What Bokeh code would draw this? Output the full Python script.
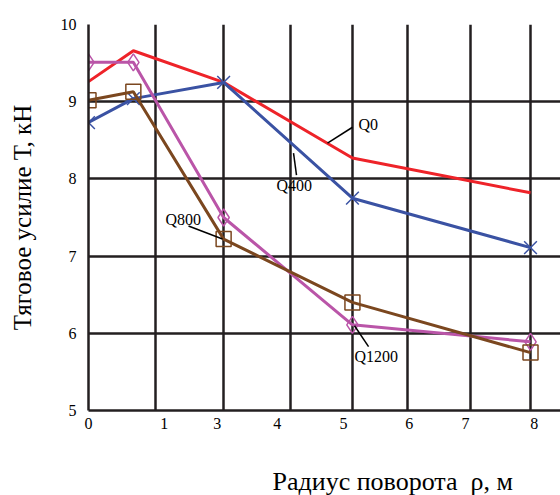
import numpy as np
from bokeh.plotting import figure
from bokeh.models import Title, FixedTicker
from bokeh.core.properties import value
from bokeh.embed import file_html
from bokeh.resources import INLINE

# ---- data ----
rho = [0, 0.67, 3, 5, 8]
q0 = [9.26, 9.66, 9.25, 8.27, 7.82]
q400 = [8.73, 9.04, 9.25, 7.75, 7.11]
q800 = [9.02, 9.13, 7.22, 6.40, 5.75]
q1200 = [9.51, 9.51, 7.50, 6.11, 5.89]

# non-uniform radius axis of the original: grid values and their axis positions
rho_grid = [0, 1, 3, 4, 5, 6, 7, 8]
grid_pos = [0, 1.06, 2.14, 3.2, 4.18, 5.05, 6.05, 7.0]
x_tick_labels = ["0", "1", "3", "4", "5", "6", "7", "8"]
x_label_pos = [0, 1.20, 2.04, 2.99, 4.04, 5.08, 5.97, 7.06]
y_ticks = [5, 6, 7, 8, 9, 10]

FONT = "'Liberation Serif'"
GRID = "#231f20"

def xp(r):
    return list(np.interp(r, rho_grid, grid_pos))

p = figure(width=560, height=495, x_range=(0, 7.475), y_range=(5, 10),
           output_backend="svg", toolbar_location=None,
           min_border_left=88, min_border_right=0, min_border_top=24,
           min_border_bottom=0)
p.outline_line_color = None
p.background_fill_color = "white"

# grid
p.xgrid.ticker = FixedTicker(ticks=grid_pos)
p.ygrid.ticker = FixedTicker(ticks=y_ticks)
for g in (p.xgrid, p.ygrid):
    g.grid_line_color = GRID
    g.grid_line_width = 2.5
    g.grid_line_alpha = 1.0

# x axis (an invisible axis label is used as spacing above the x title)
p.xaxis.ticker = FixedTicker(ticks=x_label_pos)
p.xaxis.major_label_overrides = {x: s for x, s in zip(x_label_pos, x_tick_labels)}
p.xaxis.major_tick_out = 0
p.xaxis.major_tick_in = 0
p.xaxis.minor_tick_out = 0
p.xaxis.minor_tick_in = 0
p.xaxis.axis_line_width = 2.5
p.xaxis.axis_line_color = GRID
p.xaxis.major_label_standoff = 7
p.xaxis.major_label_text_font = FONT
p.xaxis.major_label_text_font_size = "16px"
p.xaxis.major_label_text_color = "black"
p.xaxis.axis_label = "\u00a0"
p.xaxis.axis_label_text_font_size = "10px"
p.xaxis.axis_label_standoff = 19

# y axis
p.yaxis.ticker = FixedTicker(ticks=y_ticks)
p.yaxis.major_tick_out = 0
p.yaxis.major_tick_in = 0
p.yaxis.minor_tick_out = 0
p.yaxis.minor_tick_in = 0
p.yaxis.axis_line_width = 2.5
p.yaxis.axis_line_color = GRID
p.yaxis.major_label_standoff = 12
p.yaxis.major_label_text_font = FONT
p.yaxis.major_label_text_font_size = "16px"
p.yaxis.major_label_text_color = "black"
p.yaxis.axis_label = "Тяговое усилие Т, кН"
p.yaxis.axis_label_text_font = FONT
p.yaxis.axis_label_text_font_size = "25px"
p.yaxis.axis_label_text_font_style = "normal"
p.yaxis.axis_label_text_color = "black"
p.yaxis.axis_label_standoff = 22

# x title
p.add_layout(Title(text="Радиус поворота\u00a0\u00a0ρ, м", align="left", offset=184,
                   standoff=0, vertical_align="bottom", text_font=FONT,
                   text_font_size="26px", text_font_style="normal",
                   text_color="black"), "below")

# series
RED, BLUE, MAG, BROWN = "#ee2329", "#3a52a3", "#ba55a8", "#7b471f"
x = xp(rho)
p.line(x, q0, line_color=RED, line_width=3)
p.line(x, q400, line_color=BLUE, line_width=3)
p.scatter(x, q400, marker="x", size=18, line_color=BLUE, line_width=1.5)
p.line(x, q1200, line_color=MAG, line_width=3)
p.scatter(x, q1200, marker="diamond", size=17, line_color=MAG, line_width=1.5,
          fill_color=None)
p.line(x, q800, line_color=BROWN, line_width=3)
p.scatter(x, q800, marker="square", size=15, line_color=BROWN, line_width=1.5,
          fill_color=None)

# series labels with leader lines
names = ["Q0", "Q400", "Q800", "Q1200"]
name_x = [4.276, 2.977, 1.22, 4.213]
name_y = [8.708, 7.92, 7.468, 5.698]
lead_x0 = [3.785, 3.247, 1.584, 4.213]
lead_y0 = [8.463, 8.333, 7.39, 6.098]
lead_x1 = [4.181, 3.294, 2.122, 4.435]
lead_y1 = [8.669, 8.049, 7.222, 5.827]
p.segment(lead_x0, lead_y0, lead_x1, lead_y1, line_color="black", line_width=1.5)
p.text(name_x, name_y, text=names, text_font=value(FONT), text_font_size="16px",
       text_baseline="middle", text_align="left", text_color="black")

open("out.html", "w").write(file_html(p, INLINE))
